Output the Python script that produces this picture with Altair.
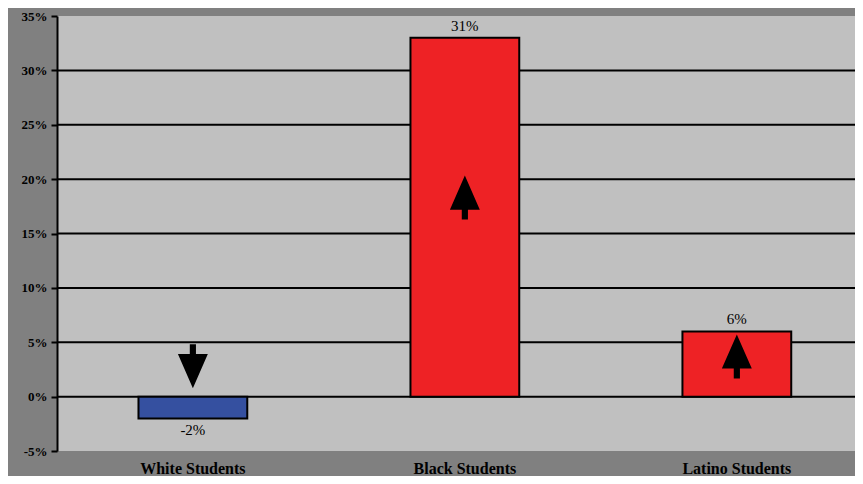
import altair as alt
import pandas as pd

categories = ["White Students", "Black Students", "Latino Students"]
values = [-2, 33, 6]
value_labels = ["-2%", "31%", "6%"]
colors = ["#3550A0", "#EE2225", "#EE2225"]
arrow_dir = ["down", "up", "up"]
arrow_pos = [2.8, 18.3, 3.7]
grid_values = [0, 5, 10, 15, 20, 25, 30]
y_ticks = [-5, 0, 5, 10, 15, 20, 25, 30, 35]

df = pd.DataFrame({
    "cat": categories,
    "val": values,
    "lab": value_labels,
    "col": colors,
    "dir": arrow_dir,
    "apos": arrow_pos,
})
grid_df = pd.DataFrame({"g": grid_values})

UP = "M0,-1 L0.68,0.55 L0.14,0.55 L0.14,1 L-0.14,1 L-0.14,0.55 L-0.68,0.55 Z"
DOWN = "M0,1 L0.68,-0.55 L0.14,-0.55 L0.14,-1 L-0.14,-1 L-0.14,-0.55 L-0.68,-0.55 Z"

yscale = alt.Scale(domain=[-5, 35], nice=False, zero=False)
xscale = alt.Scale(paddingInner=0.6, paddingOuter=0.267, align=0.561)
xenc = alt.X("cat:N", sort=categories, scale=xscale,
             axis=alt.Axis(title=None, labelAngle=0, ticks=False, domain=False,
                           labelPadding=9, labelFont="Liberation Serif",
                           labelFontWeight="bold", labelFontSize=16, labelColor="black"))

grid = alt.Chart(grid_df).mark_rule(color="black", strokeWidth=2).encode(
    y=alt.Y("g:Q", scale=yscale,
            axis=alt.Axis(title=None, values=y_ticks, format="d", labelExpr="datum.value + '%'",
                          grid=False, domainColor="black", domainWidth=2,
                          tickColor="black", tickSize=6, tickWidth=2,
                          labelFont="Liberation Serif", labelFontWeight="bold",
                          labelFontSize=13, labelColor="black", labelPadding=4))
)

bars = alt.Chart(df).mark_bar(stroke="black", strokeWidth=2).encode(
    x=xenc,
    y=alt.Y("val:Q", scale=yscale),
    y2=alt.datum(0),
    color=alt.Color("col:N", scale=None),
)

labels_pos = alt.Chart(df).transform_filter("datum.val >= 0").mark_text(
    baseline="bottom", dy=-4, font="Liberation Serif", fontSize=15, color="black"
).encode(x=alt.X("cat:N", sort=categories, scale=xscale), y=alt.Y("val:Q", scale=yscale), text="lab:N")

labels_neg = alt.Chart(df).transform_filter("datum.val < 0").mark_text(
    baseline="top", dy=5, font="Liberation Serif", fontSize=15, color="black"
).encode(x=alt.X("cat:N", sort=categories, scale=xscale), y=alt.Y("val:Q", scale=yscale), text="lab:N")

arrows = alt.Chart(df).mark_point(filled=True, color="black", opacity=1, size=1936).encode(
    x=alt.X("cat:N", sort=categories, scale=xscale),
    y=alt.Y("apos:Q", scale=yscale),
    shape=alt.Shape("dir:N", scale=alt.Scale(domain=["up", "down"], range=[UP, DOWN]), legend=None),
)

chart = alt.layer(grid, bars, labels_pos, labels_neg, arrows).properties(
    width=798, height=435,
    autosize=alt.AutoSizeParams(type="none"),
    padding={"left": 49, "top": 8, "right": 0, "bottom": 25},
    background="#808080",
).configure_view(fill="#C0C0C0", stroke=None)

chart.save("out.html", embed_options={"renderer": "svg", "actions": False})
